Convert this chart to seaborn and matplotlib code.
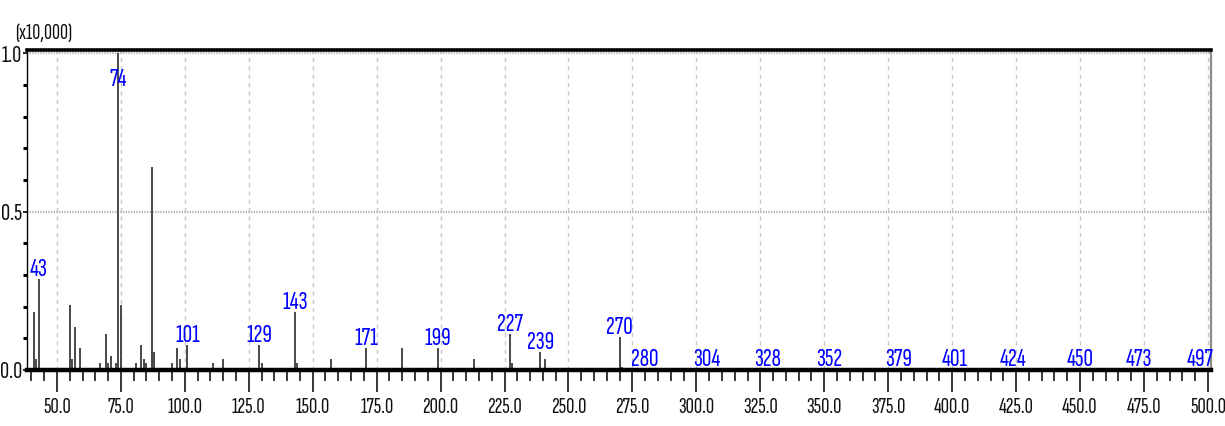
import matplotlib
matplotlib.use("Agg")
import matplotlib.pyplot as plt
from matplotlib.ticker import MultipleLocator, FixedLocator, FormatStrFormatter
import seaborn as sns

# m/z values and relative intensities (x10,000 counts)
mz = [41, 42, 43, 55, 56, 57, 59, 67, 69, 70, 71, 73, 74, 75, 81, 83, 84, 85,
      87, 88, 95, 97, 98, 101, 111, 115, 129, 130, 143, 144, 157, 171, 185,
      199, 213, 227, 228, 239, 241, 270, 271, 280, 304, 328, 352, 379, 401,
      424, 450, 473, 497]
intensity = [0.184, 0.035, 0.288, 0.206, 0.035, 0.136, 0.070, 0.023, 0.114,
             0.022, 0.044, 0.022, 1.000, 0.206, 0.022, 0.079, 0.035, 0.023,
             0.642, 0.057, 0.022, 0.070, 0.035, 0.079, 0.022, 0.035, 0.079,
             0.022, 0.184, 0.022, 0.035, 0.070, 0.070, 0.070, 0.035, 0.114,
             0.022, 0.058, 0.035, 0.104, 0.010, 0.004, 0.004, 0.004, 0.004,
             0.004, 0.004, 0.004, 0.004, 0.004, 0.004]

# peaks carrying an m/z label
labelled = [43, 74, 101, 129, 143, 171, 199, 227, 239, 270, 280, 304, 328,
            352, 379, 401, 424, 450, 473, 497]

x_major = [50, 75, 100, 125, 150, 175, 200, 225, 250, 275, 300, 325, 350,
           375, 400, 425, 450, 475, 500]
y_major = [0.0, 0.5, 1.0]

sns.set_theme(style="white")
plt.rcParams["font.family"] = ["Sofia Sans Extra Condensed", "DejaVu Sans"]

fig = plt.figure(figsize=(12.25, 4.26), dpi=100)
ax = fig.add_axes([27 / 1225, 56 / 426, (1211 - 27) / 1225, (376 - 56) / 426])

ax.set_xlim(38.3, 501.2)
ax.set_ylim(0, 1.011)

# grid
for xv in x_major:
    ax.axvline(xv, color="#c8c8c8", lw=1.0, ls=(0, (3, 3)), zorder=0)
for yv in y_major:
    ax.axhline(yv, color="#b4b4b4", lw=1.6, ls=(0, (0.6, 0.6)), zorder=0)

# spectrum sticks
ax.vlines(mz, 0, intensity, color="#3a3a3a", lw=1.3, zorder=2)

lookup = dict(zip(mz, intensity))
for m in labelled:
    h = min(lookup[m], 0.89)
    ax.annotate(str(m), xy=(m, h), xytext=(0, 2), textcoords="offset points",
                ha="center", va="baseline", color="#0000ff", fontsize=19,
                zorder=3)

# spines
for s in ax.spines.values():
    s.set_visible(True)
ax.spines["bottom"].set_linewidth(3.2)
ax.spines["bottom"].set_color("black")
ax.spines["top"].set_linewidth(2.6)
ax.spines["top"].set_color("black")
ax.spines["left"].set_linewidth(1.0)
ax.spines["left"].set_color("black")
ax.spines["right"].set_linewidth(1.6)
ax.spines["right"].set_color("#8c8c8c")

# ticks
ax.xaxis.set_major_locator(FixedLocator(x_major))
ax.xaxis.set_minor_locator(MultipleLocator(5))
ax.xaxis.set_major_formatter(FormatStrFormatter("%.1f"))
ax.yaxis.set_major_locator(FixedLocator(y_major))
ax.yaxis.set_minor_locator(MultipleLocator(0.1))
ax.yaxis.set_major_formatter(FormatStrFormatter("%.1f"))

ax.tick_params(axis="x", which="major", direction="out", length=16, width=1.1,
               color="black", labelsize=16.5, pad=4, bottom=True, top=False)
ax.tick_params(axis="x", which="minor", direction="out", length=8, width=1.1,
               color="black", bottom=True, top=False)
ax.tick_params(axis="y", which="major", direction="out", length=3, width=1.2,
               color="black", labelsize=18, pad=0.5, left=True, right=False)
ax.tick_params(axis="y", which="minor", direction="out", length=3, width=2.2,
               color="black", left=True, right=False)
for lbl in ax.get_xticklabels() + ax.get_yticklabels():
    lbl.set_color("#111111")

fig.text(44 / 1225, 1 - 33 / 426, "(x10,000)", ha="center", va="center",
         fontsize=16, color="#111111")

fig.savefig("out.png", dpi=100)
